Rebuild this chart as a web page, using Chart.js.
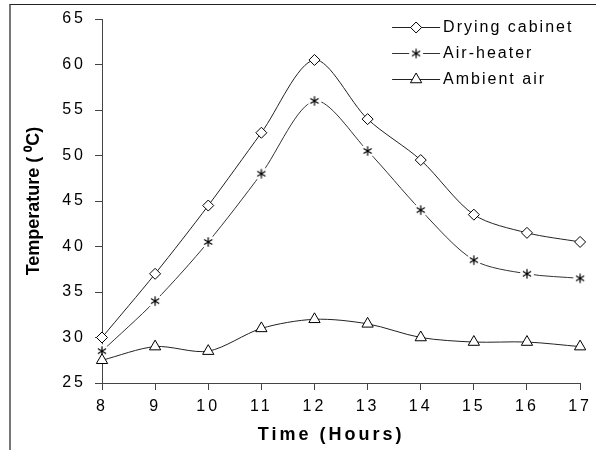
<!DOCTYPE html>
<html>
<head>
<meta charset="utf-8">
<script src="https://cdn.jsdelivr.net/npm/chart.js"></script>
<style>
  html, body { margin: 0; padding: 0; background: #fff; }
  #wrap { position: relative; width: 596px; height: 450px; }
  #frame { position: absolute; left: 9px; top: 4px; right: 0; bottom: 0;
           border-top: 1px solid #222; border-left: 2px solid #777; }
  canvas { position: absolute; left: 0; top: 0; }
</style>
</head>
<body>
<div id="wrap">
  <div id="frame"></div>
  <canvas id="myChart" width="596" height="450"></canvas>
</div>
<script>
var hours = ["8", "9", "10", "11", "12", "13", "14", "15", "16", "17"];
var dryingCabinet = [30, 37, 44.5, 52.5, 60.5, 54, 49.5, 43.5, 41.5, 40.5];
var airHeater = [28.5, 34, 40.5, 48, 56, 50.5, 44, 38.5, 37, 36.5];
var ambientAir = [27.5, 29, 28.5, 31, 32, 31.5, 30, 29.5, 29.5, 29];
var seriesNames = ["Drying cabinet", "Air-heater", "Ambient air"];
var yMin = 25, yMax = 65, yStep = 5;

var fontFamily = "'Liberation Sans', Arial, sans-serif";

// asterisk marker with a white halo, so the line stops short of it
function makeStar() {
  var c = document.createElement("canvas");
  c.width = 16; c.height = 16;
  var g = c.getContext("2d");
  g.fillStyle = "#fff";
  g.beginPath(); g.arc(8, 8, 7, 0, Math.PI * 2); g.fill();
  g.strokeStyle = "#000";
  g.lineWidth = 1.2;
  g.beginPath();
  g.moveTo(8, 3.3); g.lineTo(8, 12.7);
  g.moveTo(3.9, 5.6); g.lineTo(12.1, 10.4);
  g.moveTo(3.9, 10.4); g.lineTo(12.1, 5.6);
  g.stroke();
  return c;
}
var starImg = makeStar();

// wide lettering like the original figure (the y title stays normal)
var spacingPlugin = {
  id: "spacing",
  afterLayout: function (chart) {
    var ys = chart.scales.y, xs = chart.scales.x;
    if (!ys._patched) {
      var yTitle = ys.drawTitle;
      ys.drawTitle = function () {
        var c = this.ctx, old = c.letterSpacing;
        c.letterSpacing = "0px";
        yTitle.apply(this, arguments);
        c.letterSpacing = old;
      };
      ys._patched = true;
    }
    if (!xs._patched) {
      var xTitle = xs.drawTitle;
      xs.drawTitle = function () {
        var c = this.ctx;
        c.save();
        c.translate(-10, 0);
        xTitle.apply(this, arguments);
        c.restore();
      };
      xs._patched = true;
    }
  },
  beforeDraw: function (chart) {
    chart.ctx.letterSpacing = "3px";
  }
};

var legendPlugin = {
  id: "insideLegend",
  afterDraw: function (chart) {
    var ctx = chart.ctx;
    var x0 = chart.chartArea.right - 188;
    chart.data.datasets.forEach(function (ds, i) {
      var y = 27 + i * 26;
      ctx.save();
      ctx.strokeStyle = ds.borderColor;
      ctx.lineWidth = 1;
      ctx.beginPath();
      ctx.moveTo(x0, y + 0.5);
      ctx.lineTo(x0 + 48, y + 0.5);
      ctx.stroke();
      ctx.fillStyle = "#fff";
      ctx.strokeStyle = "#000";
      Chart.helpers.drawPoint(ctx, {
        pointStyle: ds.pointStyle, radius: ds.pointRadius, borderWidth: 1, rotation: 0
      }, x0 + 24, y + 0.5);
      ctx.fillStyle = "#000";
      ctx.letterSpacing = "2px";
      ctx.font = "16px " + fontFamily;
      ctx.textBaseline = "middle";
      ctx.textAlign = "left";
      ctx.fillText(ds.label, x0 + 51, y + 1);
      ctx.restore();
    });
  }
};

new Chart("myChart", {
  type: "line",
  data: {
    labels: hours,
    datasets: [{
      label: seriesNames[0],
      data: dryingCabinet,
      borderColor: "#222",
      borderWidth: 1,
      tension: 0.3,
      pointStyle: "rectRot",
      pointRadius: 5.5,
      pointBackgroundColor: "#fff",
      pointBorderColor: "#000",
      pointBorderWidth: 1,
      clip: false,
      order: 0
    }, {
      label: seriesNames[1],
      data: airHeater,
      borderColor: "#333",
      borderWidth: 1,
      tension: 0.3,
      pointStyle: starImg,
      pointRadius: 5,
      clip: false,
      order: 2
    }, {
      label: seriesNames[2],
      data: ambientAir,
      borderColor: "#222",
      borderWidth: 1,
      tension: 0.3,
      pointStyle: "triangle",
      pointRadius: 6.5,
      pointBackgroundColor: "#fff",
      pointBorderColor: "#000",
      pointBorderWidth: 1,
      clip: false,
      order: 1
    }]
  },
  options: {
    responsive: false,
    animation: false,
    layout: { padding: { left: 12, top: 19, right: 13, bottom: 0 } },
    plugins: {
      legend: { display: false },
      tooltip: { enabled: false }
    },
    scales: {
      x: {
        offset: false,
        afterFit: function (s) { s.height = 67; },
        grid: { display: true, drawOnChartArea: false, tickLength: 7, color: "#444" },
        border: { color: "#444", width: 1 },
        ticks: { padding: 7, color: "#000", maxRotation: 0, autoSkip: false,
                 font: { family: fontFamily, size: 16 } },
        title: { display: true, text: "Time (Hours)", color: "#000",
                 padding: { top: 0, bottom: 4 },
                 font: { family: fontFamily, size: 18, weight: "bold" } }
      },
      y: {
        min: yMin,
        max: yMax,
        afterFit: function (s) { s.width = 90; },
        grid: { display: true, drawOnChartArea: false, tickLength: 7, color: "#444" },
        border: { color: "#444", width: 1 },
        ticks: { stepSize: yStep, padding: 9, color: "#000",
                 font: { family: fontFamily, size: 16 } },
        title: { display: true, text: "Temperature ( \u2070C)", color: "#000",
                 padding: { top: 11, bottom: 0 },
                 font: { family: fontFamily, size: 18, weight: "bold" } }
      }
    }
  },
  plugins: [spacingPlugin, legendPlugin]
});
</script>
</body>
</html>
